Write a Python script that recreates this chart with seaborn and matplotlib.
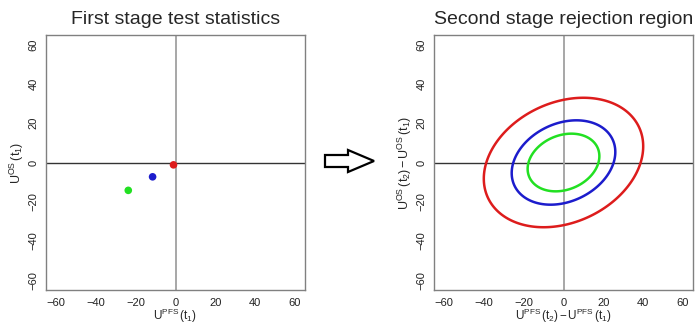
import numpy as np
import pandas as pd
import matplotlib
matplotlib.use("Agg")
import matplotlib.pyplot as plt
from matplotlib.patches import Polygon
import seaborn as sns

# first stage test statistics (one point per scenario)
stage1_color = ["red", "blue", "green"]
stage1_x = [-1.0, -11.5, -23.7]
stage1_y = [-1.2, -7.3, -14.2]

# second stage rejection regions: half-widths and tilt of each boundary
region_color = ["red", "blue", "green"]
region_sd_x = [40.0, 26.0, 18.0]
region_sd_y = [33.0, 21.5, 14.7]
region_rho = [0.25, 0.25, 0.22]

ticks = [-60, -40, -20, 0, 20, 40, 60]
palette = {"red": "#dd1c1c", "blue": "#1c1ccc", "green": "#22e022"}

sns.set_style("white")
plt.rcParams["font.family"] = ["Liberation Sans", "DejaVu Sans"]
plt.rcParams["mathtext.fontset"] = "custom"
plt.rcParams["mathtext.rm"] = "Liberation Sans"
plt.rcParams["mathtext.it"] = "Liberation Sans:italic"

fig = plt.figure(figsize=(6.95, 3.23), dpi=100)
ax1 = fig.add_axes([46 / 695, 33 / 323, 259 / 695, 255 / 323])
ax2 = fig.add_axes([434 / 695, 33 / 323, 259 / 695, 255 / 323])


def style_axes(ax, title, xlabel, ylabel):
    ax.set_xlim(-65, 65)
    ax.set_ylim(-65, 65)
    ax.set_xticks(ticks)
    ax.set_yticks(ticks)
    ax.axhline(0, color="#333333", lw=1, zorder=1)
    ax.axvline(0, color="#a0a0a0", lw=1.3, zorder=1)
    for s in ax.spines.values():
        s.set_color("#808080")
        s.set_linewidth(1)
    ax.tick_params(direction="out", length=4, width=1, color="#808080",
                   labelsize=8, labelcolor="#222222", pad=1.5)
    for lab in ax.get_yticklabels():
        lab.set_rotation(90)
        lab.set_va("center")
    ax.set_title(title, fontsize=14, pad=8)
    ax.set_xlabel(xlabel, fontsize=8.5, labelpad=-0.5)
    ax.set_ylabel(ylabel, fontsize=9, labelpad=2)


pts = pd.DataFrame({"x": stage1_x, "y": stage1_y, "grp": stage1_color})
sns.scatterplot(data=pts, x="x", y="y", hue="grp", palette=palette,
                s=30, edgecolor="none", legend=False, ax=ax1, zorder=3)
style_axes(ax1, "First stage test statistics",
           r"$\mathrm{U}^{\mathrm{PFS}}\,(\mathrm{t}_1)$",
           r"$\mathrm{U}^{\mathrm{OS}}\,(\mathrm{t}_1)$")

gx, gy = np.meshgrid(np.linspace(-65, 65, 500), np.linspace(-65, 65, 500))
for c, sx, sy, r in zip(region_color, region_sd_x, region_sd_y, region_rho):
    q = (gx**2 / sx**2 - 2 * r * gx * gy / (sx * sy) + gy**2 / sy**2) / (1 - r**2)
    ax2.contour(gx, gy, q, levels=[1.0], colors=[palette[c]], linewidths=1.8, zorder=3)
style_axes(ax2, "Second stage rejection region",
           r"$\mathrm{U}^{\mathrm{PFS}}\,(\mathrm{t}_2)\,{-}\,\mathrm{U}^{\mathrm{PFS}}\,(\mathrm{t}_1)$",
           r"$\mathrm{U}^{\mathrm{OS}}\,(\mathrm{t}_2)\,{-}\,\mathrm{U}^{\mathrm{OS}}\,(\mathrm{t}_1)$")

# hollow arrow between the panels
arrow_px = [(325, 155), (348, 155), (348, 150), (374, 161),
            (348, 172), (348, 167), (325, 167)]
arrow = Polygon([(x / 695, 1 - y / 323) for x, y in arrow_px], closed=True,
                facecolor="white", edgecolor="black", lw=1.6,
                transform=fig.transFigure, joinstyle="miter")
fig.patches.append(arrow)

fig.savefig("out.png", dpi=100)
